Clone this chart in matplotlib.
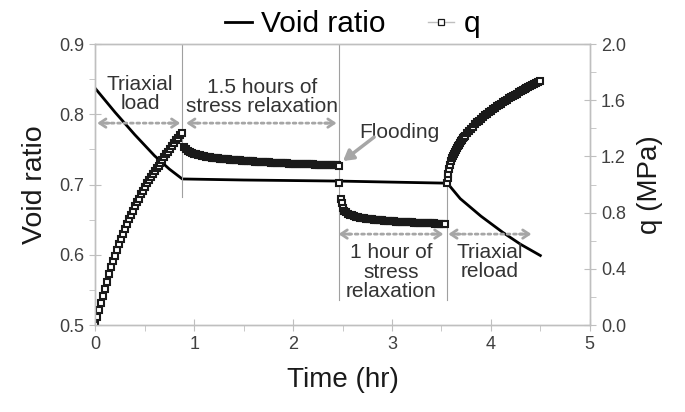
import matplotlib
matplotlib.use("Agg")
import matplotlib.pyplot as plt
from matplotlib.lines import Line2D
from matplotlib.ticker import MultipleLocator, FormatStrFormatter

plt.rcParams['font.family'] = ['Liberation Sans', 'DejaVu Sans']

# void ratio (left axis)
time_e = [0.0, 0.2, 0.4, 0.6, 0.75, 0.88, 1.5, 2.46, 3.0, 3.56, 3.69, 3.9, 4.12, 4.3, 4.5]
void_e = [0.837, 0.803, 0.771, 0.741, 0.722, 0.708, 0.7065, 0.705, 0.7035, 0.702,
          0.680, 0.655, 0.632, 0.615, 0.599]

# q during triaxial load
time_load = [0.00, 0.02, 0.04, 0.06, 0.08, 0.10, 0.12, 0.14, 0.16, 0.18, 0.20, 0.22,
             0.24, 0.26, 0.28, 0.30, 0.32, 0.34, 0.36, 0.38, 0.40, 0.42, 0.44, 0.46,
             0.48, 0.50, 0.52, 0.54, 0.56, 0.58, 0.60, 0.62, 0.64, 0.66, 0.68, 0.70,
             0.72, 0.74, 0.76, 0.78, 0.80, 0.82, 0.84, 0.86, 0.88]
q_load = [0.000, 0.055, 0.110, 0.160, 0.210, 0.260, 0.310, 0.360, 0.410, 0.455, 0.495,
          0.535, 0.575, 0.615, 0.650, 0.685, 0.720, 0.755, 0.785, 0.815, 0.845, 0.875,
          0.900, 0.930, 0.955, 0.985, 1.010, 1.030, 1.055, 1.075, 1.095, 1.115, 1.135,
          1.155, 1.175, 1.195, 1.215, 1.235, 1.255, 1.275, 1.295, 1.315, 1.330, 1.350,
          1.370]

# q during 1.5 h stress relaxation
time_rel1 = [0.90, 0.92, 0.94, 0.96, 0.98, 1.00, 1.02, 1.04, 1.06, 1.08, 1.10, 1.12,
             1.14, 1.16, 1.18, 1.20, 1.22, 1.24, 1.26, 1.28, 1.30, 1.32, 1.34, 1.36,
             1.38, 1.40, 1.42, 1.44, 1.46, 1.48, 1.50, 1.52, 1.54, 1.56, 1.58, 1.60,
             1.62, 1.64, 1.66, 1.68, 1.70, 1.72, 1.74, 1.76, 1.78, 1.80, 1.82, 1.84,
             1.86, 1.88, 1.90, 1.92, 1.94, 1.96, 1.98, 2.00, 2.02, 2.04, 2.06, 2.08,
             2.10, 2.12, 2.14, 2.16, 2.18, 2.20, 2.22, 2.24, 2.26, 2.28, 2.30, 2.32,
             2.34, 2.36, 2.38, 2.40, 2.42, 2.44, 2.46]
q_rel1 = [1.270, 1.254, 1.240, 1.232, 1.225, 1.219, 1.215, 1.211, 1.208, 1.204, 1.201,
          1.199, 1.196, 1.194, 1.192, 1.190, 1.188, 1.186, 1.185, 1.183, 1.182, 1.181,
          1.179, 1.178, 1.177, 1.176, 1.174, 1.173, 1.172, 1.171, 1.170, 1.169, 1.168,
          1.167, 1.166, 1.165, 1.164, 1.163, 1.162, 1.161, 1.160, 1.159, 1.158, 1.158,
          1.157, 1.156, 1.155, 1.155, 1.154, 1.153, 1.152, 1.152, 1.151, 1.150, 1.150,
          1.149, 1.148, 1.148, 1.147, 1.146, 1.146, 1.145, 1.144, 1.144, 1.143, 1.143,
          1.142, 1.141, 1.141, 1.140, 1.140, 1.139, 1.139, 1.138, 1.137, 1.137, 1.136,
          1.136, 1.135]

# q after flooding, 1 h stress relaxation
time_rel2 = [2.465, 2.48, 2.49, 2.50, 2.52, 2.54, 2.56, 2.58, 2.60, 2.62, 2.64, 2.66,
             2.68, 2.70, 2.72, 2.74, 2.76, 2.78, 2.80, 2.82, 2.84, 2.86, 2.88, 2.90,
             2.92, 2.94, 2.96, 2.98, 3.00, 3.02, 3.04, 3.06, 3.08, 3.10, 3.12, 3.14,
             3.16, 3.18, 3.20, 3.22, 3.24, 3.26, 3.28, 3.30, 3.32, 3.34, 3.36, 3.38,
             3.40, 3.42, 3.44, 3.46, 3.48, 3.50, 3.52, 3.54]
q_rel2 = [1.010, 0.900, 0.870, 0.835, 0.815, 0.803, 0.794, 0.787, 0.781, 0.776, 0.772,
          0.768, 0.765, 0.762, 0.760, 0.758, 0.756, 0.754, 0.752, 0.751, 0.749, 0.748,
          0.746, 0.745, 0.744, 0.743, 0.742, 0.740, 0.739, 0.738, 0.737, 0.736, 0.735,
          0.735, 0.734, 0.733, 0.732, 0.731, 0.731, 0.730, 0.729, 0.728, 0.728, 0.727,
          0.726, 0.726, 0.725, 0.724, 0.724, 0.723, 0.722, 0.722, 0.721, 0.721, 0.720,
          0.719]

# q during triaxial reload
time_rel3 = [3.560, 3.565, 3.570, 3.580, 3.590, 3.600, 3.610, 3.620, 3.630, 3.640,
             3.650, 3.660, 3.670, 3.680, 3.690, 3.700, 3.710, 3.720, 3.730, 3.740,
             3.760, 3.780, 3.800, 3.820, 3.840, 3.860, 3.880, 3.900, 3.920, 3.940,
             3.960, 3.980, 4.000, 4.020, 4.040, 4.060, 4.080, 4.100, 4.120, 4.140,
             4.160, 4.180, 4.200, 4.220, 4.240, 4.260, 4.280, 4.300, 4.320, 4.340,
             4.360, 4.380, 4.400, 4.420, 4.440, 4.460, 4.480, 4.500]
q_rel3 = [1.010, 1.045, 1.075, 1.110, 1.140, 1.165, 1.186, 1.205, 1.221, 1.235, 1.248,
          1.260, 1.273, 1.285, 1.298, 1.310, 1.320, 1.330, 1.339, 1.348, 1.365, 1.382,
          1.398, 1.413, 1.428, 1.442, 1.455, 1.468, 1.480, 1.492, 1.504, 1.515, 1.526,
          1.537, 1.547, 1.557, 1.567, 1.577, 1.587, 1.596, 1.605, 1.614, 1.623, 1.631,
          1.640, 1.648, 1.656, 1.664, 1.672, 1.680, 1.687, 1.694, 1.702, 1.709, 1.716,
          1.723, 1.730, 1.736]

axis_grey = '#bfbfbf'
txt_grey = '#404040'
arrow_grey = '#a6a6a6'

fig = plt.figure(figsize=(6.85, 4.12), dpi=100)
ax = fig.add_axes([0.139, 0.211, 0.722, 0.682])
ax2 = ax.twinx()

ax.plot(time_e, void_e, color='black', lw=2)

mk = dict(ls='none', marker='s', ms=4.8, mfc='white', mec='#1a1a1a', mew=1.5)
for t, q in [(time_load, q_load), (time_rel1, q_rel1), (time_rel2, q_rel2), (time_rel3, q_rel3)]:
    ax2.plot(t, q, **mk)

ax.set_xlim(0, 5)
ax.set_ylim(0.5, 0.9)
ax2.set_ylim(0, 2.0)
ax.xaxis.set_major_locator(MultipleLocator(1))
ax.xaxis.set_minor_locator(MultipleLocator(0.5))
ax.yaxis.set_major_locator(MultipleLocator(0.1))
ax.yaxis.set_minor_locator(MultipleLocator(0.05))
ax.yaxis.set_major_formatter(FormatStrFormatter('%.1f'))
ax2.yaxis.set_major_locator(MultipleLocator(0.4))
ax2.yaxis.set_minor_locator(MultipleLocator(0.2))
ax2.yaxis.set_major_formatter(FormatStrFormatter('%.1f'))

for a in (ax, ax2):
    for s in a.spines.values():
        s.set_color(axis_grey)
        s.set_linewidth(1)
    a.tick_params(which='major', direction='inout', length=8, color=axis_grey,
                  labelsize=13, labelcolor=txt_grey, pad=4)
    a.tick_params(which='minor', direction='out', length=4, color=axis_grey)

ax.set_xlabel('Time (hr)', fontsize=20, color='#1a1a1a', labelpad=10)
ax.set_ylabel('Void ratio', fontsize=20.5, color='#1a1a1a', labelpad=8)
ax2.set_ylabel('q (MPa)', fontsize=20, color='#1a1a1a', labelpad=8)

# phase separators
vl = dict(color='#a0a0a0', lw=0.8)
ax.plot([0.88, 0.88], [0.9, 0.682], **vl)
ax.plot([2.46, 2.46], [0.9, 0.536], **vl)
ax.plot([3.56, 3.56], [0.702, 0.536], **vl)

# dotted double arrows
def span_arrow(x0, x1, y):
    ax.annotate('', xy=(x0 + 0.06, y), xytext=(x1 - 0.06, y),
                arrowprops=dict(arrowstyle='-', ls=(0, (1, 1.3)), color=arrow_grey, lw=2))
    for xa, xb in [(x0 + 0.12, x0), (x1 - 0.12, x1)]:
        ax.annotate('', xy=(xb, y), xytext=(xa, y),
                    arrowprops=dict(arrowstyle='->, head_length=0.45, head_width=0.3',
                                    color=arrow_grey, lw=2, shrinkA=0, shrinkB=0))

span_arrow(0.02, 0.86, 0.7875)
span_arrow(0.92, 2.44, 0.7875)
span_arrow(2.46, 3.52, 0.6295)
span_arrow(3.57, 4.41, 0.6295)

tk = dict(fontsize=15, color='#333333', ha='center', va='center', linespacing=1.05)
ax.text(0.455, 0.829, 'Triaxial\nload', **tk)
ax.text(1.69, 0.8245, '1.5 hours of\nstress relaxation', **tk)
ax.text(2.99, 0.5754, '1 hour of\nstress\nrelaxation', **tk)
ax.text(3.99, 0.5897, 'Triaxial\nreload', **tk)
ax.text(3.07, 0.7747, 'Flooding', **tk)
ax.annotate('', xy=(2.505, 0.7335), xytext=(2.82, 0.7676),
            arrowprops=dict(arrowstyle='-|>, head_length=0.6, head_width=0.35',
                            color=arrow_grey, lw=2.5, shrinkA=0, shrinkB=0))

handles = [Line2D([], [], color='black', lw=2),
           Line2D([], [], color='#bfbfbf', lw=1, marker='s', ms=4.2, mfc='white',
                  mec='#1a1a1a', mew=0.9)]
fig.legend(handles, ['Void ratio', 'q'], loc='upper center', bbox_to_anchor=(0.515, 1.04),
           ncol=2, frameon=False, fontsize=21.5, handlelength=0.9, handletextpad=0.3,
           columnspacing=1.4)

fig.savefig('out.png', dpi=100)
